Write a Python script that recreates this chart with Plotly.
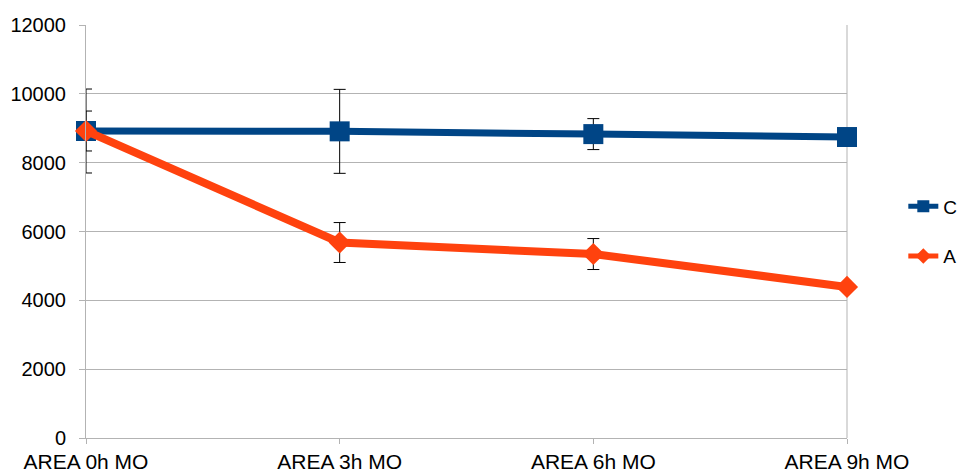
import plotly.graph_objects as go

categories = ["AREA 0h MO", "AREA 3h MO", "AREA 6h MO", "AREA 9h MO"]
c_values = [8920, 8910, 8830, 8745]
c_errors = [1220, 1220, 450, 0]
a_values = [8920, 5680, 5345, 4390]
a_errors = [580, 580, 450, 0]
y_ticks = [0, 2000, 4000, 6000, 8000, 10000, 12000]
y_tick_text = [str(v) for v in y_ticks]

FONT = "Liberation Sans, Arial, sans-serif"

fig = go.Figure()
fig.add_trace(go.Scatter(
    x=categories, y=c_values, name="C", mode="lines+markers",
    line=dict(color="#004586", width=7),
    marker=dict(symbol="square", size=20, color="#004586"),
    error_y=dict(type="data", array=c_errors, visible=True, color="black", thickness=1, width=6),
    cliponaxis=False, legendgroup="c",
))
fig.add_trace(go.Scatter(
    x=categories, y=a_values, name="A", mode="lines+markers",
    line=dict(color="#ff420e", width=8),
    marker=dict(symbol="diamond", size=17, color="#ff420e"),
    error_y=dict(type="data", array=a_errors, visible=True, color="black", thickness=1, width=6),
    cliponaxis=False, legendgroup="a",
))

fig.update_layout(
    width=958, height=464,
    margin=dict(l=78, r=119, t=17, b=34, autoexpand=False),
    paper_bgcolor="white", plot_bgcolor="white",
    font=dict(family=FONT, size=20, color="black"),
    showlegend=True,
    legend=dict(x=1.074, y=0.50, xanchor="left", yanchor="middle",
                tracegroupgap=22, font=dict(size=19), itemsizing="constant",
                bgcolor="rgba(0,0,0,0)"),
    xaxis=dict(
        type="category", range=[0, 3], showgrid=False,
        showline=True, linecolor="#b3b3b3", linewidth=1,
        ticks="outside", ticklen=5, tickcolor="#b3b3b3",
        tickfont=dict(size=21), zeroline=False, mirror=False,
        ticklabelstandoff=0, automargin=False,
    ),
    yaxis=dict(
        range=[0, 12000], tickvals=y_ticks, ticktext=y_tick_text, showgrid=True,
        gridcolor="#b3b3b3", gridwidth=1,
        showline=True, linecolor="#b3b3b3", linewidth=1,
        ticks="outside", ticklen=6, tickcolor="#b3b3b3",
        tickfont=dict(size=20), zeroline=False,
        ticklabelstandoff=9, automargin=False,
    ),
    shapes=[dict(type="line", xref="paper", yref="paper", x0=1, x1=1, y0=0, y1=1,
                 line=dict(color="#b3b3b3", width=1), layer="below")],
)

fig.write_html("out.html")
